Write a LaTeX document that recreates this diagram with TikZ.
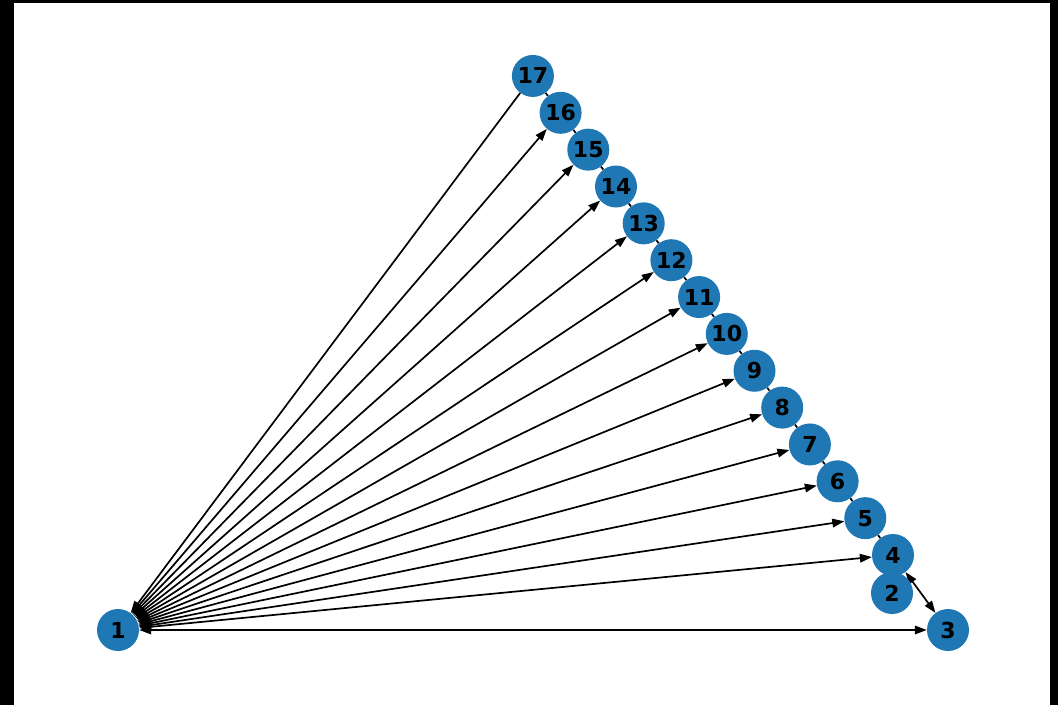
\documentclass[tikz,border=0pt]{standalone}
\usepackage{fontspec}
\setmainfont{DejaVu Sans}
\usetikzlibrary{arrows.meta,backgrounds}
\definecolor{nodeblue}{HTML}{1F77B4}
\tikzset{
  vertex/.style={circle, fill=nodeblue, minimum size=42pt, inner sep=0pt,
    font=\fontsize{22}{26}\selectfont\bfseries},
  link/.style={line width=1.7pt, black},
}

\begin{document}
\begin{tikzpicture}[x=1pt,y=-1pt,>={Triangle[length=12pt,width=8.5pt]}]
\useasboundingbox (0,0) rectangle (1058,705);
% vertices
\node[vertex] (n1) at (118,630) {1};
\node[vertex] (n3) at (948,630) {3};
\foreach \i in {4,...,17}
  \node[vertex] (n\i) at ({893-(\i-4)*27.7},{555-(\i-4)*36.85}) {\i};
\node[vertex] (n2) at (892,593) {2};
% frame and edges behind the vertices
\begin{scope}[on background layer]
\fill[black] (0,0) rectangle (1058,705);
\fill[white] (14,3) rectangle (1050,705);
\foreach \i in {3,...,16}
  \draw[link,<->] (n1) -- (n\i);
\draw[link,->] (n17) -- (n1);
\foreach \i [count=\j from 5] in {4,...,16}
  \draw[link] (n\j) -- (n\i);
\draw[link,<->] (n4) -- (n3);
\end{scope}
\end{tikzpicture}
\end{document}
